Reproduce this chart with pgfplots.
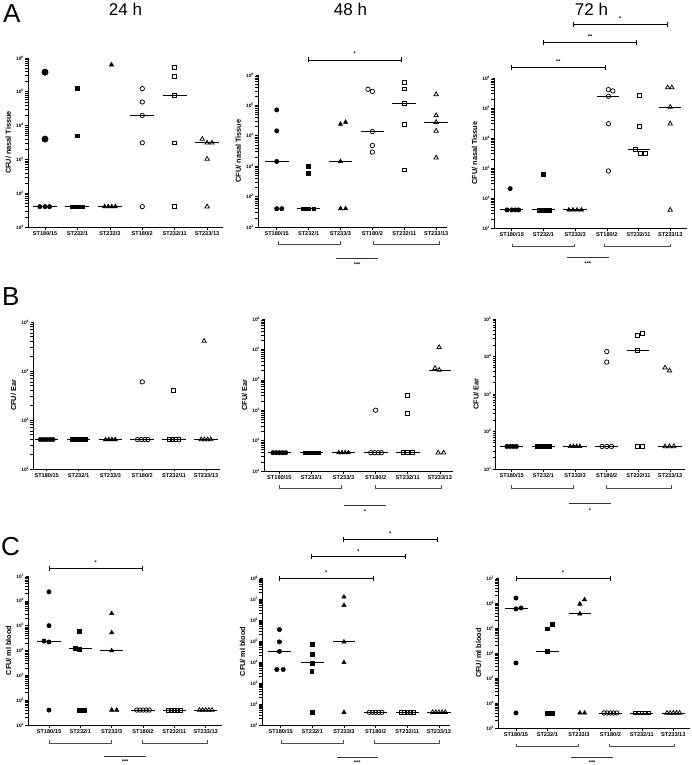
\documentclass[border=0pt]{standalone}
\usepackage{fontspec}
\setmainfont{Liberation Sans}
\usepackage{pgfplots}
\pgfplotsset{compat=1.18}

\newcommand{\tlab}[1]{10\textsuperscript{#1}}
\pgfplotsset{
 /pgfplots/myax/.style={
  scale only axis,
  axis x line*=bottom, axis y line*=left,
  xtick={0,1,2,3,4,5},
  xticklabels={ST180/15,ST232/1,ST233/3,ST180/2,ST232/11,ST233/13},
  tick align=outside, major tick length=2.5pt,
  tick style={black, line width=0.6pt},
  axis line style={line width=0.8pt},
  xticklabel style={font=\fontsize{5.6}{6}\selectfont\bfseries, inner sep=1.5pt},
  yticklabel style={font=\fontsize{4.8}{5}\selectfont\bfseries, inner sep=1.5pt},
  ylabel style={font=\fontsize{7.3}{8}\selectfont\bfseries},
  clip=false,
 },
 /pgfplots/mfc/.style={only marks, mark=*, black, mark size=2.2pt, mark options={line width=0.5pt}},
 /pgfplots/mfs/.style={only marks, mark=square*, black, mark size=1.9pt, mark options={line width=0.5pt}},
 /pgfplots/mft/.style={only marks, mark=triangle*, black, mark size=2.5pt, mark options={line width=0.5pt}},
 /pgfplots/moc/.style={only marks, mark=o, black, mark size=2.2pt, mark options={line width=0.75pt}},
 /pgfplots/mos/.style={only marks, mark=square, black, mark size=1.9pt, mark options={line width=0.75pt}},
 /pgfplots/mot/.style={only marks, mark=triangle, black, mark size=2.5pt, mark options={line width=0.75pt}},
 /pgfplots/mmed/.style={black, line width=0.9pt, mark=none},
}

\newcommand{\tbr}[5]{%
  \draw[line width=0.7pt] (#1pt,-#3pt) -- (#2pt,-#3pt);
  \draw[line width=0.7pt] (#1pt,{-#3pt+2.5pt}) -- (#1pt,{-#3pt-2.5pt});
  \draw[line width=0.7pt] (#2pt,{-#3pt+2.5pt}) -- (#2pt,{-#3pt-2.5pt});
  \node[font=\fontsize{5.5}{5.5}\selectfont\bfseries, inner sep=0pt] at ({(#1pt+#2pt)/2},-#4pt) {#5};
}
\newcommand{\bbr}[3]{%
  \draw[line width=0.7pt, black!70] (#1pt,{-#3pt+3pt}) -- (#1pt,-#3pt) -- (#2pt,-#3pt) -- (#2pt,{-#3pt+3pt});
}
\newcommand{\mln}[5]{%
  \draw[line width=0.7pt, black!80] (#1pt,-#3pt) -- (#2pt,-#3pt);
  \node[font=\fontsize{5.5}{5.5}\selectfont\bfseries, inner sep=0pt] at ({(#1pt+#2pt)/2},-#4pt) {#5};
}

\begin{document}
\begin{tikzpicture}
\path[use as bounding box] (0pt,0pt) rectangle (691pt,-765pt);

% panel letters and titles
\node[anchor=base west, inner sep=0pt, font=\fontsize{26}{26}\selectfont] at (3pt,-23pt) {A};
\node[anchor=base west, inner sep=0pt, font=\fontsize{26}{26}\selectfont] at (2pt,-305pt) {B};
\node[anchor=base west, inner sep=0pt, font=\fontsize{26}{26}\selectfont] at (1pt,-555pt) {C};
\node[anchor=base, inner sep=0pt, font=\fontsize{17}{17}\selectfont] at (125.5pt,-16pt) {24 h};
\node[anchor=base, inner sep=0pt, font=\fontsize{17}{17}\selectfont] at (350.5pt,-16pt) {48 h};
\node[anchor=base, inner sep=0pt, font=\fontsize{17}{17}\selectfont] at (591.5pt,-16pt) {72 h};

% ===== A1 =====
\begin{axis}[myax, ymode=log, ymin=10, ymax=1e6,
  ytick={10,100,1000,10000,100000,1000000}, yticklabels={\tlab{1},\tlab{2},\tlab{3},\tlab{4},\tlab{5},\tlab{6}},
  at={(28pt,-227pt)}, anchor=south west, width=195pt, height=169pt, xmin=-0.525, xmax=5.49, ylabel={CFU/ nasal Tissue}]
\addplot[mmed] coordinates {(-0.37,40) (0.37,40)};
\addplot[mfc, mark size=3.2pt] coordinates {(0,3.8e5) (0,4e3)};
\addplot[mfc] coordinates {(-0.16,40) (0,40) (0.14,40)};
\addplot[mmed] coordinates {(0.63,40) (1.37,40)};
\addplot[mfs] coordinates {(1,1.24e5) (1,5e3) (0.85,40) (1,40) (1.15,40)};
\addplot[mmed] coordinates {(1.63,40) (2.37,40)};
\addplot[mft] coordinates {(2.05,6.3e5) (1.84,40) (1.95,40) (2.06,40) (2.17,40)};
\addplot[mmed] coordinates {(2.63,2e4) (3.37,2e4)};
\addplot[moc] coordinates {(3,1.24e5) (3,5e4) (3,2e4) (3,3.1e3) (3,40)};
\addplot[mmed] coordinates {(3.63,7.9e4) (4.37,7.9e4)};
\addplot[mos] coordinates {(4,5.4e5) (4,2.8e5) (4,7.9e4) (4,3.1e3) (4,40)};
\addplot[mmed] coordinates {(4.63,3.1e3) (5.37,3.1e3)};
\addplot[mot] coordinates {(4.85,4e3) (5,3.1e3) (5.15,3.1e3) (5,1.03e3) (5,40)};
\end{axis}

% ===== A2 =====
\begin{axis}[myax, ymode=log, ymin=10, ymax=1e6,
  ytick={10,100,1000,10000,100000,1000000}, yticklabels={\tlab{1},\tlab{2},\tlab{3},\tlab{4},\tlab{5},\tlab{6}},
  at={(258pt,-227pt)}, anchor=south west, width=189pt, height=152pt, xmin=-0.587, xmax=5.34, ylabel={CFU/ nasal Tissue}]
\addplot[mmed] coordinates {(-0.37,1.43e3) (0.37,1.43e3)};
\addplot[mfc] coordinates {(0,7.1e4) (0,1.45e4) (0,1.43e3) (0,40) (0.16,40)};
\addplot[mmed] coordinates {(0.63,40) (1.37,40)};
\addplot[mfs] coordinates {(1,1e3) (1,600) (0.84,40) (1,40) (1.16,40)};
\addplot[mmed] coordinates {(1.63,1.43e3) (2.37,1.43e3)};
\addplot[mft] coordinates {(2,2.4e4) (2.16,2.8e4) (2,1.43e3) (2,40) (2.16,40)};
\addplot[mmed] coordinates {(2.63,1.38e4) (3.37,1.38e4)};
\addplot[moc] coordinates {(2.86,3.4e5) (3,2.9e5) (3,1.38e4) (3,4.8e3) (3,2.9e3)};
\addplot[mmed] coordinates {(3.63,1.18e5) (4.37,1.18e5)};
\addplot[mos] coordinates {(4,5.7e5) (4,3.5e5) (4,1.18e5) (4,2.4e4) (4,760)};
\addplot[mmed] coordinates {(4.63,2.8e4) (5.37,2.8e4)};
\addplot[mot] coordinates {(5,2.3e5) (5,4.7e4) (5,2.8e4) (5,1.45e4) (5,1.9e3)};
\end{axis}

% ===== A3 =====
\begin{axis}[myax, ymode=log, ymin=10, ymax=1e6,
  ytick={10,100,1000,10000,100000,1000000}, yticklabels={\tlab{1},\tlab{2},\tlab{3},\tlab{4},\tlab{5},\tlab{6}},
  at={(494.3pt,-228pt)}, anchor=south west, width=192.4pt, height=150pt, xmin=-0.55, xmax=5.52, ylabel={CFU/ nasal Tissue}]
\addplot[mmed] coordinates {(-0.37,40) (0.37,40)};
\addplot[mfc] coordinates {(-0.05,205) (-0.15,40) (0,40) (0.12,40) (0.22,40)};
\addplot[mmed] coordinates {(0.63,40) (1.37,40)};
\addplot[mfs] coordinates {(1,615) (0.86,40) (0.98,40) (1.1,40) (1.2,40)};
\addplot[mmed] coordinates {(1.63,40) (2.37,40)};
\addplot[mft] coordinates {(1.8,40) (1.93,40) (2.06,40) (2.2,40)};
\addplot[mmed] coordinates {(2.68,2.45e5) (3.38,2.45e5)};
\addplot[moc] coordinates {(3.05,4.1e5) (3.19,3.7e5) (3.05,2.45e5) (3.05,3e4) (3.05,800)};
\addplot[mmed] coordinates {(3.68,4.1e3) (4.36,4.1e3)};
\addplot[mos] coordinates {(4.03,2.6e5) (4.03,2.45e4) (3.9,4.1e3) (4.06,3e3) (4.21,3e3)};
\addplot[mmed] coordinates {(4.66,1.08e5) (5.35,1.08e5)};
\addplot[mot] coordinates {(4.92,4.8e5) (5.05,4.8e5) (5,1.08e5) (5,3e4) (5,40)};
\end{axis}

% ===== B1 =====
\begin{axis}[myax, ymode=log, ymin=10, ymax=1e4,
  ytick={10,100,1000,10000}, yticklabels={\tlab{1},\tlab{2},\tlab{3},\tlab{4}},
  at={(33.3pt,-469pt)}, anchor=south west, width=186.7pt, height=147pt, xmin=-0.42, xmax=5.44, ylabel={CFU/ Ear}]
\addplot[mmed] coordinates {(-0.37,40) (0.37,40)};
\addplot[mfc] coordinates {(-0.2,40) (-0.1,40) (0,40) (0.1,40) (0.2,40)};
\addplot[mmed] coordinates {(0.63,40) (1.37,40)};
\addplot[mfs] coordinates {(0.8,40) (0.88,40) (0.96,40) (1.04,40) (1.12,40) (1.2,40)};
\addplot[mmed] coordinates {(1.63,40) (2.37,40)};
\addplot[mft] coordinates {(1.85,40) (1.95,40) (2.05,40) (2.15,40)};
\addplot[mmed] coordinates {(2.63,40) (3.37,40)};
\addplot[moc] coordinates {(3,600) (2.85,40) (2.97,40) (3.08,40) (3.18,40)};
\addplot[mmed] coordinates {(3.63,40) (4.37,40)};
\addplot[mos] coordinates {(3.98,400) (3.85,40) (3.95,40) (4.05,40) (4.15,40)};
\addplot[mmed] coordinates {(4.63,40) (5.37,40)};
\addplot[mot] coordinates {(4.94,4.1e3) (4.85,40) (4.95,40) (5.05,40) (5.15,40)};
\end{axis}

% ===== B2 =====
\begin{axis}[myax, ymode=log, ymin=10, ymax=1e6,
  ytick={10,100,1000,10000,100000,1000000}, yticklabels={\tlab{1},\tlab{2},\tlab{3},\tlab{4},\tlab{5},\tlab{6}},
  at={(264.3pt,-471pt)}, anchor=south west, width=189pt, height=152pt, xmin=-0.47, xmax=5.42, ylabel={CFU/ Ear}]
\addplot[mmed] coordinates {(-0.37,40) (0.37,40)};
\addplot[mfc] coordinates {(-0.2,40) (-0.1,40) (0,40) (0.1,40) (0.2,40)};
\addplot[mmed] coordinates {(0.63,40) (1.37,40)};
\addplot[mfs] coordinates {(0.8,40) (0.88,40) (0.96,40) (1.04,40) (1.12,40) (1.2,40)};
\addplot[mmed] coordinates {(1.63,40) (2.37,40)};
\addplot[mft] coordinates {(1.85,40) (1.95,40) (2.05,40) (2.15,40)};
\addplot[mmed] coordinates {(2.63,40) (3.37,40)};
\addplot[moc] coordinates {(3,1e3) (2.85,40) (2.97,40) (3.08,40) (3.18,40)};
\addplot[mmed] coordinates {(3.63,40) (4.37,40)};
\addplot[mos] coordinates {(4,3e3) (4,800) (3.85,40) (4,40) (4.15,40)};
\addplot[mmed] coordinates {(4.67,2e4) (5.35,2e4)};
\addplot[mot] coordinates {(4.98,1.17e5) (4.85,2.4e4) (4.98,2.1e4) (4.95,40) (5.12,40)};
\end{axis}

% ===== B3 =====
\begin{axis}[myax, ymode=log, ymin=10, ymax=1e5,
  ytick={10,100,1000,10000,100000}, yticklabels={\tlab{1},\tlab{2},\tlab{3},\tlab{4},\tlab{5}},
  at={(495.7pt,-469pt)}, anchor=south west, width=189.3pt, height=150pt, xmin=-0.505, xmax=5.47, ylabel={CFU/ Ear}]
\addplot[mmed] coordinates {(-0.37,40) (0.37,40)};
\addplot[mfc] coordinates {(-0.15,40) (-0.05,40) (0.05,40) (0.15,40)};
\addplot[mmed] coordinates {(0.63,40) (1.37,40)};
\addplot[mfs] coordinates {(0.8,40) (0.9,40) (1,40) (1.1,40) (1.2,40)};
\addplot[mmed] coordinates {(1.63,40) (2.37,40)};
\addplot[mft] coordinates {(1.85,40) (1.95,40) (2.05,40) (2.15,40)};
\addplot[mmed] coordinates {(2.63,40) (3.37,40)};
\addplot[moc] coordinates {(3,1.35e4) (3,7.1e3) (2.85,40) (3,40) (3.15,40)};
\addplot[mmed] coordinates {(3.64,1.44e4) (4.33,1.44e4)};
\addplot[mos] coordinates {(3.97,3.7e4) (4.12,4.2e4) (3.97,1.44e4) (3.97,40) (4.12,40)};
\addplot[mmed] coordinates {(4.63,40) (5.37,40)};
\addplot[mot] coordinates {(4.84,5e3) (4.98,4.2e3) (4.84,40) (4.98,40) (5.12,40)};
\end{axis}

% ===== C1 =====
\begin{axis}[myax, ymode=log, ymin=10, ymax=1e7,
  ytick={10,100,1000,10000,100000,1000000,10000000}, yticklabels={\tlab{1},\tlab{2},\tlab{3},\tlab{4},\tlab{5},\tlab{6},\tlab{7}},
  at={(28.3pt,-725pt)}, anchor=south west, width=193.4pt, height=149pt, xmin=-0.66, xmax=5.51, ylabel={CFU/ ml blood}]
\addplot[mmed] coordinates {(-0.37,2.4e4) (0.37,2.4e4)};
\addplot[mfc] coordinates {(0,2.3e6) (0,1e5) (-0.16,2.4e4) (0,2.2e4) (0,40)};
\addplot[mmed] coordinates {(0.63,1.2e4) (1.37,1.2e4)};
\addplot[mfs] coordinates {(0.97,5.9e4) (0.85,1.25e4) (0.97,1.15e4) (0.97,40) (1.12,40)};
\addplot[mmed] coordinates {(1.63,9.8e3) (2.37,9.8e3)};
\addplot[mft] coordinates {(2,3.1e5) (2,5.2e4) (2,9.8e3) (2,40) (2.16,40)};
\addplot[mmed] coordinates {(2.63,40) (3.37,40)};
\addplot[moc] coordinates {(2.8,40) (2.9,40) (3,40) (3.1,40) (3.2,40)};
\addplot[mmed] coordinates {(3.63,40) (4.37,40)};
\addplot[mos] coordinates {(3.8,40) (3.9,40) (4,40) (4.1,40) (4.2,40)};
\addplot[mmed] coordinates {(4.63,40) (5.37,40)};
\addplot[mot] coordinates {(4.8,40) (4.9,40) (5,40) (5.1,40) (5.2,40)};
\end{axis}

% ===== C2 =====
\begin{axis}[myax, ymode=log, ymin=10, ymax=1e8,
  ytick={10,100,1000,10000,100000,1000000,10000000,100000000}, yticklabels={\tlab{1},\tlab{2},\tlab{3},\tlab{4},\tlab{5},\tlab{6},\tlab{7},\tlab{8}},
  at={(262.3pt,-725pt)}, anchor=south west, width=187.7pt, height=147pt, xmin=-0.58, xmax=5.35, ylabel={CFU/ ml blood}]
\addplot[mmed] coordinates {(-0.39,3.2e4) (0.33,3.2e4)};
\addplot[mfc] coordinates {(-0.04,3.5e5) (-0.04,9.1e4) (-0.04,3.2e4) (-0.12,4.4e3) (0.08,4.4e3)};
\addplot[mmed] coordinates {(0.63,9.1e3) (1.37,9.1e3)};
\addplot[mfs] coordinates {(1,6.8e4) (1,2.3e4) (1,9.1e3) (0.98,3.5e3) (1,40)};
\addplot[mmed] coordinates {(1.65,9.1e4) (2.35,9.1e4)};
\addplot[mft] coordinates {(2,1.25e7) (2,5e6) (2,9.1e4) (2,9.5e3) (2,40)};
\addplot[mmed] coordinates {(2.63,40) (3.37,40)};
\addplot[moc] coordinates {(2.8,40) (2.9,40) (3,40) (3.1,40) (3.2,40)};
\addplot[mmed] coordinates {(3.63,40) (4.37,40)};
\addplot[mos] coordinates {(3.8,40) (3.9,40) (4,40) (4.1,40) (4.2,40)};
\addplot[mmed] coordinates {(4.63,40) (5.37,40)};
\addplot[mot] coordinates {(4.8,40) (4.9,40) (5,40) (5.1,40) (5.2,40)};
\end{axis}

% ===== C3 =====
\begin{axis}[myax, ymode=log, ymin=10, ymax=1e7,
  ytick={10,100,1000,10000,100000,1000000,10000000}, yticklabels={\tlab{1},\tlab{2},\tlab{3},\tlab{4},\tlab{5},\tlab{6},\tlab{7}},
  at={(498.3pt,-728pt)}, anchor=south west, width=191.7pt, height=150pt, xmin=-0.56, xmax=5.53, ylabel={CFU/ ml blood}]
\addplot[mmed] coordinates {(-0.35,5.8e5) (0.37,5.8e5)};
\addplot[mfc] coordinates {(0,1.58e6) (0,5.8e5) (0.16,6.3e5) (0,4e3) (0,40)};
\addplot[mmed] coordinates {(0.65,1.17e4) (1.37,1.17e4)};
\addplot[mfs] coordinates {(1,9.4e4) (1.15,1.45e5) (1,1.17e4) (1,40) (1.15,40)};
\addplot[mmed] coordinates {(1.67,3.7e5) (2.37,3.7e5)};
\addplot[mft] coordinates {(2.03,9.1e5) (2.18,1.36e6) (2.03,3.7e5) (2.03,40) (2.18,40)};
\addplot[mmed] coordinates {(2.63,40) (3.37,40)};
\addplot[moc] coordinates {(2.8,40) (2.9,40) (3,40) (3.1,40) (3.2,40)};
\addplot[mmed] coordinates {(3.63,40) (4.37,40)};
\addplot[mos] coordinates {(3.8,40) (3.9,40) (4,40) (4.1,40) (4.2,40)};
\addplot[mmed] coordinates {(4.63,40) (5.37,40)};
\addplot[mot] coordinates {(4.8,40) (4.9,40) (5,40) (5.1,40) (5.2,40)};
\end{axis}

% ===== significance annotations =====
% A2
\tbr{308.3}{401}{60}{54}{*}
\bbr{278.3}{340}{244}
\bbr{373.3}{439.3}{244}
\mln{336}{378.3}{258.3}{264.5}{***}
% A3
\tbr{573.3}{667}{24.3}{19}{*}
\tbr{543.3}{636.7}{42.7}{37}{**}
\tbr{511.7}{605}{67.3}{61.5}{**}
\bbr{512.3}{574}{246.7}
\bbr{604.3}{670}{246.7}
\mln{566.7}{609}{257.7}{263.5}{***}
% B2
\bbr{279.3}{341.7}{488.3}
\bbr{375.7}{441}{488.3}
\mln{344}{386}{505}{512}{*}
% B3
\bbr{511.7}{573.3}{488.3}
\bbr{606}{671.7}{488.3}
\mln{569}{611}{503.3}{511}{*}
% C1
\tbr{49}{142.3}{568.3}{562.7}{*}
\bbr{49}{111.7}{743.3}
\bbr{142.3}{207.3}{743.3}
\mln{104.3}{146}{756.7}{761.5}{***}
% C2
\tbr{343.3}{437.3}{539.3}{534}{*}
\tbr{311}{405.7}{556.7}{551.5}{*}
\tbr{279.3}{373.3}{578.3}{573}{*}
\bbr{281.7}{343.3}{743.3}
\bbr{374.3}{439}{743.3}
\mln{336.7}{377.7}{757.3}{762.5}{***}
% C3
\tbr{516}{610}{578.3}{573}{*}
\bbr{516}{578.3}{746.7}
\bbr{609.3}{674}{746.7}
\mln{571}{613.3}{757.3}{762.5}{***}
\end{tikzpicture}
\end{document}
